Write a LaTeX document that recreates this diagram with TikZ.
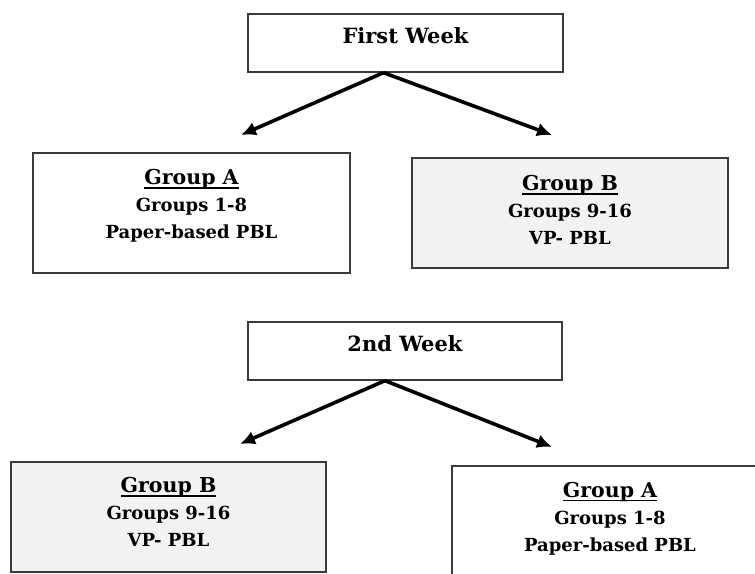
\documentclass[tikz,border=0pt]{standalone}
\usepackage{fontspec}
\setmainfont{DejaVu Serif}
\usetikzlibrary{arrows.meta}
\definecolor{boxgray}{HTML}{F2F2F2}
\definecolor{edgegray}{HTML}{3A3A3A}
\newcommand{\grphead}[1]{{\fontsize{20.5}{27}\selectfont\setbox0\hbox{#1}\rlap{\rule[-4pt]{\wd0}{1.5pt}}\box0}}
\tikzset{
  weekbox/.style={draw=edgegray, line width=1.3pt, minimum width=315pt, minimum height=58pt, inner sep=0pt, font=\bfseries\fontsize{21}{27}\selectfont, text depth=15pt},
  groupbox/.style={draw=edgegray, line width=1.3pt, minimum width=317pt, inner sep=0pt, align=center, font=\bfseries\fontsize{18}{27}\selectfont},
  flow/.style={line width=3.6pt, -{Latex[length=15pt,width=14pt]}}
}
\begin{document}
\begin{tikzpicture}[x=1pt,y=-1pt]
  \useasboundingbox (0,0) rectangle (755,573);
  \clip (0,0) rectangle (755,573);

  % first week
  \node[weekbox] (week1) at (405.5,43) {First Week};
  \node[groupbox, minimum height=120pt, text depth=18pt] (grpA1) at (191.5,213)
    {\grphead{Group A}\\ Groups 1-8\\ Paper-based PBL};
  \node[groupbox, fill=boxgray, minimum width=316pt, minimum height=110pt, text depth=6pt] (grpB1) at (570,213)
    {\grphead{Group B}\\ Groups 9-16\\ VP- PBL};
  \coordinate (fork1) at ([xshift=-22pt]week1.south);
  \coordinate (tipA1) at (241,135);
  \coordinate (tipB1) at (552,135);
  \draw[flow] (fork1) -- (tipA1);
  \draw[flow] (fork1) -- (tipB1);

  % 2nd week
  \node[weekbox, minimum width=314pt] (week2) at (405,351) {2nd Week};
  \node[groupbox, fill=boxgray, minimum width=315pt, minimum height=110pt, text depth=10pt] (grpB2) at (168.5,517)
    {\grphead{Group B}\\ Groups 9-16\\ VP- PBL};
  \node[groupbox, minimum width=316pt, minimum height=120pt, text depth=19pt] (grpA2) at (610,526)
    {\grphead{Group A}\\ Groups 1-8\\ Paper-based PBL};
  \coordinate (fork2) at ([xshift=-20pt]week2.south);
  \coordinate (tipB2) at (240,444);
  \coordinate (tipA2) at (552,447);
  \draw[flow] (fork2) -- (tipB2);
  \draw[flow] (fork2) -- (tipA2);
\end{tikzpicture}
\end{document}
